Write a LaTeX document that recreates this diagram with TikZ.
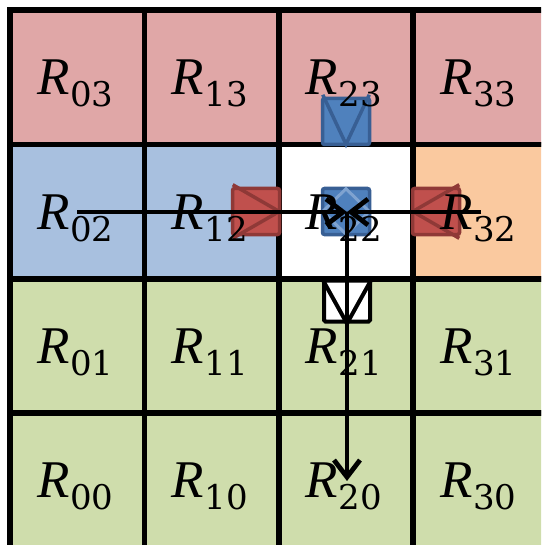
\documentclass[tikz,border=0pt]{standalone}
\usepackage{fontspec}
\newfontfamily\rfont{Liberation Serif}
\newfontfamily\dfont{DejaVu Serif}
\usetikzlibrary{arrows.meta}
\definecolor{pinkc}{HTML}{E0A7A7}
\definecolor{bluec}{HTML}{A8C0DF}
\definecolor{greenc}{HTML}{CFDDAC}
\definecolor{orangec}{HTML}{FAC99F}
\definecolor{sqblue}{HTML}{4F81BD}
\definecolor{sqblueb}{HTML}{385F94}
\definecolor{sqbluel}{HTML}{7FA3D0}
\definecolor{sqred}{HTML}{C0504D}
\definecolor{sqredb}{HTML}{8F3937}
\newcommand{\Rlab}[1]{{\rfont\fontsize{53}{56}\selectfont\itshape R}\kern0.5pt\raisebox{-12pt}{\dfont\fontsize{34}{38}\selectfont #1}}
\tikzset{
  cell/.style={draw=black, line width=5.5pt, minimum size=134.4pt, inner sep=0pt, outer sep=0pt},
  lab/.style={anchor=base, inner sep=0pt},
  bsq/.style={draw=sqblueb, fill=sqblue, line width=3.5pt, rounded corners=2pt, minimum width=47pt, minimum height=46pt, inner sep=0pt},
  rsq/.style={draw=sqredb, fill=sqred, line width=3.5pt, rounded corners=2pt, minimum width=47pt, minimum height=46pt, inner sep=0pt},
  wsq/.style={draw=black, fill=white, line width=4pt, rounded corners=1.5pt, minimum width=46pt, minimum height=41pt, inner sep=0pt},
  arr/.style={line width=4.8pt, -{Straight Barb[length=17pt,width=26pt]}}
}
\begin{document}
\begin{tikzpicture}[x=1pt,y=-1pt]
\useasboundingbox (0,0) rectangle (541,545);
\clip (0,0) rectangle (541,545);
\fill[white] (0,0) rectangle (541,545);
% cells
\foreach \c/\r/\col in {0/3/pinkc,1/3/pinkc,2/3/pinkc,3/3/pinkc,
  0/2/bluec,1/2/bluec,2/2/white,3/2/orangec,
  0/1/greenc,1/1/greenc,2/1/greenc,3/1/greenc,
  0/0/greenc,1/0/greenc,2/0/greenc,3/0/greenc}
  \node[cell, fill=\col] (c\c\r) at ({10+134.4*(\c+0.5)},{10+134.4*(3-\r+0.5)}) {};
% small squares
\node[bsq] (s23) at (346,121.5) {};
\draw[sqblueb, line width=3.5pt] ([shift={(2,-2)}]s23.north west) -- ([yshift=2pt]s23.south) -- ([shift={(-2,-2)}]s23.north east);
\node[bsq] (s22) at (346,211.5) {};
\draw[sqbluel, line width=3pt] ([yshift=-2pt]s22.north) -- ([xshift=2pt]s22.west) -- ([yshift=2pt]s22.south) -- ([xshift=-2pt]s22.east) -- cycle;
\node[rsq] (s12) at (256,211.5) {};
\draw[sqredb, line width=3.5pt] ([shift={(2,-2)}]s12.north west) -- ([xshift=-2pt]s12.east) -- ([shift={(2,2)}]s12.south west);
\node[rsq] (s32) at (436,211.5) {};
\draw[sqredb, line width=3.5pt] ([shift={(-2,-2)}]s32.north east) -- ([xshift=2pt]s32.west) -- ([shift={(-2,2)}]s32.south east);
\node[wsq] (s21) at (347,301) {};
\draw[black, line width=4pt] (s21.north west) -- (s21.south) -- (s21.north east);
% labels
\foreach \c/\r in {0/3,1/3,2/3,3/3,0/2,1/2,2/2,3/2,0/1,1/1,2/1,3/1,0/0,1/0,2/0,3/0}
  \node[lab] (l\c\r) at ([xshift=-2pt,yshift=-17.5pt]c\c\r.center) {\Rlab{\c\r}};
% arrows
\coordinate (lstart) at (77,212);
\coordinate (rstart) at (481,212);
\coordinate (mid) at (347,212);
\coordinate (dend) at (347,481);
\draw[arr] (lstart) -- (mid);
\draw[arr] (rstart) -- (mid);
\draw[arr] (mid) -- (dend);
\end{tikzpicture}
\end{document}
